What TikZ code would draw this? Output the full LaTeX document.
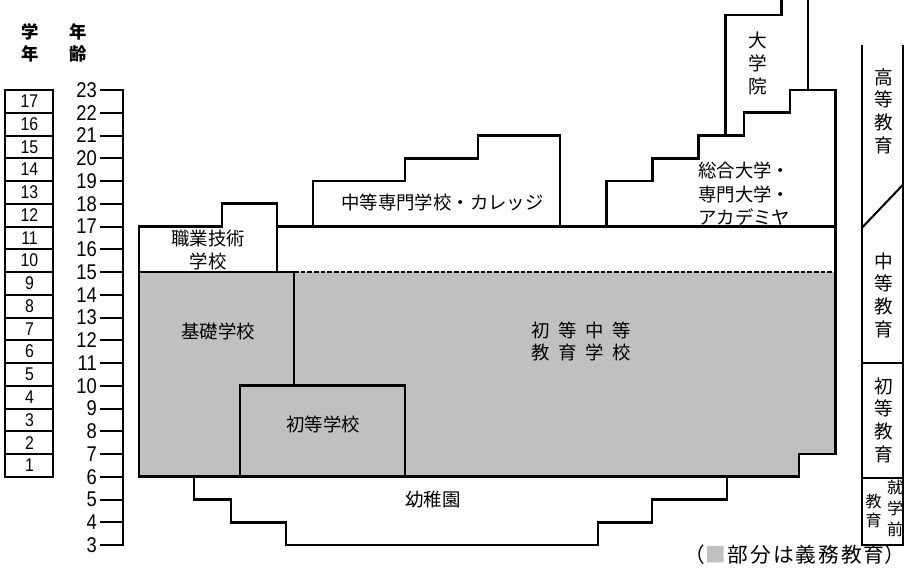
\documentclass[tikz,border=0pt]{standalone}
\usepackage{fontspec}
\setmainfont{Noto Sans CJK JP}
\newfontfamily\numfont[FakeStretch=0.86]{Liberation Sans}
\definecolor{mgray}{HTML}{C0C0C0}
\newcommand{\lk}{\kern1.5pt}
\begin{document}
\begin{tikzpicture}[x=0.75pt,y=-0.75pt,
  ln/.style={line width=2pt, line join=miter, line cap=rect},
  lnt/.style={line width=1.5pt, line join=miter, line cap=rect},
  dsh/.style={line width=0.8pt, dash pattern=on 3.5pt off 1.5pt},
  lbl/.style={inner sep=0pt, font=\fontsize{13.8pt}{17pt}\selectfont, align=center},
  vlbl/.style={inner sep=0pt, font=\fontsize{14pt}{17pt}\selectfont, align=center},
  agenum/.style={inner sep=0pt, anchor=east, font=\numfont\fontsize{16pt}{16pt}\selectfont},
  grnum/.style={inner sep=0pt, font=\numfont\fontsize{13.8pt}{14pt}\selectfont},
  hdr/.style={inner sep=0pt, font=\fontsize{13pt}{17pt}\selectfont\bfseries, align=center}]
\useasboundingbox (0,0) rectangle (906,568);

% headers
\node[hdr] (hgrade) at (30,43) {学\\年};
\node[hdr] (hage) at (78,43) {年\\齢};

% grade boxes
\foreach \g in {1,...,17} {
  \pgfmathsetmacro\ya{545-(\g+2)*22.75}
  \pgfmathsetmacro\yb{\ya-22.75}
  \pgfmathsetmacro\ym{\ya-11.375}
  \draw[lnt,line cap=butt] (5,\ya) rectangle (53,\yb);
  \node[grnum] (grade\g) at (29.5,\ym) {\g};
}

% age axis
\coordinate (axtop) at (123,90);
\coordinate (axbot) at (123,545);
\draw[lnt] (axtop) -- (axbot);
\foreach \a in {3,...,23} {
  \pgfmathsetmacro\yy{545-(\a-3)*22.75}
  \draw[lnt] (101,\yy) -- (123,\yy);
  \node[agenum] (age\a) at (97,\yy) {\a};
}

% gray compulsory region
\fill[mgray] (139,272) -- (835.7,272) -- (835.7,454) -- (799,454) -- (799,476.75) -- (139,476.75) -- cycle;
\draw[dsh] (294,272) -- (835.7,272);

% outlines
\draw[ln] (139,476.75) -- (139,226.5) -- (222,226.5) -- (222,203.75) -- (277,203.75) -- (277,272);
\draw[ln] (277,226.5) -- (835.7,226.5);
\draw[ln] (313,226.5) -- (313,181) -- (405,181) -- (405,158.25) -- (478,158.25) -- (478,135.5) -- (560,135.5) -- (560,226.5);
\draw[ln] (606.7,226.5) -- (606.7,181) -- (652.3,181) -- (652.3,158.25) -- (698.3,158.25) -- (698.3,135.5) -- (744,135.5) -- (744,112.75) -- (790,112.75) -- (790,90) -- (835.7,90) -- (835.7,454) -- (799,454) -- (799,476.75) -- (139,476.75);
\draw[ln] (725.7,135.5) -- (725.7,15) -- (781.7,15) -- (781.7,0);
\draw[ln] (808,0) -- (808,90);
\draw[ln] (139,272) -- (294,272) -- (294,385.75);
\draw[ln] (240,476.75) -- (240,385.75) -- (405,385.75) -- (405,476.75);
% kindergarten
\draw[ln] (194,476.75) -- (194,499.5) -- (231,499.5) -- (231,522.25) -- (286,522.25) -- (286,545) -- (598,545) -- (598,522.25) -- (652,522.25) -- (652,499.5) -- (727,499.5) -- (727,476.75);

% right column
\draw[lnt,line cap=butt] (862,45) -- (862,545) -- (902.7,545) -- (902.7,45);
\draw[lnt] (862,227.7) -- (902.7,185);
\draw[lnt] (862,363) -- (902.7,363);
\draw[lnt] (862,477.5) -- (902.7,477.5);

% labels
\node[vlbl] (daigakuin) at (758,63.5) {大\\学\\院};
\node[lbl, align=left, anchor=west, font=\fontsize{13.8pt}{17.5pt}\selectfont] (sogo) at (698,194) {総合大学・\\専門大学・\\アカデミヤ};
\node[lbl] (chutosenmon) at (442.5,202) {中等専門学校・カレッジ};
\node[lbl] (shokugyo) at (208,250) {職業技術\\学校};
\node[lbl] (kiso) at (218,331) {基礎学校};
\node[lbl, font=\fontsize{13.8pt}{16.5pt}\selectfont] (shotochuto) at (581,341) {初\hspace{6.5pt}等\hspace{6.5pt}中\hspace{6.5pt}等\\教\hspace{6.5pt}育\hspace{6.5pt}学\hspace{6.5pt}校};
\node[lbl] (shoto) at (323,424) {初等学校};
\node[lbl] (yochien) at (433,500) {幼稚園};

\node[vlbl] (koto) at (884,111) {高\\等\\教\\育};
\node[vlbl] (chuto) at (883.5,295) {中\\等\\教\\育};
\node[vlbl] (shotoed) at (883.5,420) {初\\等\\教\\育};
\node[inner sep=0pt, align=center, font=\fontsize{12pt}{15.7pt}\selectfont] (shugaku) at (895,508) {就\\学\\前};
\node[inner sep=0pt, align=center, font=\fontsize{12pt}{14.3pt}\selectfont] (kyoiku) at (873.5,510.5) {教\\育};

\node[inner sep=0pt, anchor=east, font=\fontsize{15.5pt}{18pt}\selectfont] (legend) at (905.5,555) {（{\color{mgray}■}\lk 部\lk 分\lk は\lk 義\lk 務\lk 教\lk 育）};
\end{tikzpicture}
\end{document}
